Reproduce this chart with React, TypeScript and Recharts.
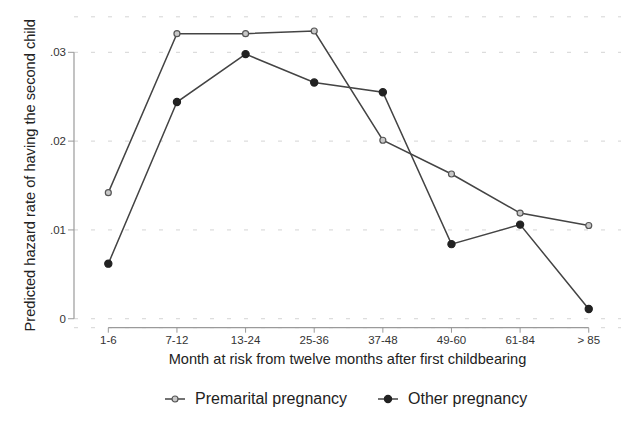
import React from "react";
import { LineChart, Line, XAxis, YAxis, CartesianGrid, ReferenceLine } from "recharts";

// Risk-period categories (months after the first twelve months post first birth)
const months = ["1-6", "7-12", "13-24", "25-36", "37-48", "49-60", "61-84", "> 85"];
// Predicted hazard rate of a second birth, by pregnancy type
const premarital = [0.0142, 0.0321, 0.0321, 0.0324, 0.0201, 0.0163, 0.0119, 0.0105];
const other = [0.0062, 0.0244, 0.0298, 0.0266, 0.0255, 0.0084, 0.0106, 0.0011];
const yTicks = [0, 0.01, 0.02, 0.03];
const xTicks = months.map((_, i) => i + 1);

const data = months.map((m, i) => ({
  pos: i + 1,
  month: m,
  premarital: premarital[i],
  other: other[i],
}));

const FONT = "'Liberation Sans', Arial, Helvetica, sans-serif";
const LINE = "#444";
const AXIS = "#9a9a9a";

const fmtY = (v: number) => (v === 0 ? "0" : v.toFixed(2).replace(/^0/, ""));
const fmtX = (v: number) => months[v - 1] ?? "";

const X_MIN = 0.5;
const X_MAX = 8.47;
const Y_MIN = -0.00101;
const Y_MAX = 0.034;

const Y_TITLE = "Predicted hazard rate of having the second child";

function YTitle(props: any) {
  const vb = props.viewBox || {};
  const cx = vb.x + 30;
  const cy = vb.y + vb.height / 2 + 3;
  return (
    <text
      x={cx}
      y={cy}
      transform={`rotate(-90, ${cx}, ${cy})`}
      textAnchor="middle"
      dominantBaseline="central"
      fontSize={14.6}
      fill="#222"
      fontFamily={FONT}
    >
      {Y_TITLE}
    </text>
  );
}

function LegendItem({ label, filled }: { label: string; filled: boolean }) {
  return (
    <div style={{ display: "flex", alignItems: "center" }}>
      <svg width={22} height={12} style={{ marginRight: 9 }}>
        <line x1={1} y1={6} x2={21} y2={6} stroke={LINE} strokeWidth={1.5} />
        <circle
          cx={11}
          cy={6}
          r={filled ? 3.6 : 3}
          fill={filled ? "#222" : "#c8c8c8"}
          stroke={filled ? "#222" : "#555"}
          strokeWidth={1.2}
        />
      </svg>
      <span style={{ fontSize: 16, color: "#222" }}>{label}</span>
    </div>
  );
}

export default function App() {
  return (
    <div
      style={{
        position: "absolute",
        left: 0,
        top: 0,
        width: 632,
        height: 428,
        background: "#fff",
        fontFamily: FONT,
      }}
    >
      <LineChart
        width={632}
        height={428}
        data={data}
        margin={{ top: 16.8, right: 11, left: 0, bottom: 78.3 }}
      >
        <CartesianGrid
          vertical={false}
          stroke="#d4d4d4"
          strokeDasharray="4 13"
        />
        <XAxis
          dataKey="pos"
          type="number"
          domain={[X_MIN, X_MAX]}
          ticks={xTicks}
          tickFormatter={fmtX}
          allowDataOverflow
          axisLine={false}
          tickLine={{ stroke: AXIS }}
          tickSize={5}
          tickMargin={3}
          height={22}
          tick={{ fontSize: 11.5, fill: "#333", fontFamily: FONT }}
          label={{
            value: "Month at risk from twelve months after first childbearing",
            position: "bottom",
            offset: 4,
            style: { fontSize: 14.6, fill: "#222", fontFamily: FONT },
          }}
        />
        <YAxis
          type="number"
          domain={[Y_MIN, Y_MAX]}
          ticks={yTicks}
          tickFormatter={fmtY}
          allowDataOverflow
          axisLine={false}
          tickLine={{ stroke: AXIS }}
          tickSize={6}
          tickMargin={2}
          width={74}
          tick={{ fontSize: 11.5, fill: "#333", fontFamily: FONT }}
          label={{ content: YTitle }}
        />
        {/* Axis lines spanning only the tick range */}
        <ReferenceLine
          segment={[
            { x: X_MIN, y: 0 },
            { x: X_MIN, y: 0.03 },
          ]}
          stroke={AXIS}
          strokeWidth={1.2}
          ifOverflow="visible"
        />
        <ReferenceLine
          segment={[
            { x: 1, y: Y_MIN },
            { x: 8, y: Y_MIN },
          ]}
          stroke={AXIS}
          strokeWidth={1.2}
          ifOverflow="visible"
        />
        <Line
          type="linear"
          dataKey="premarital"
          stroke={LINE}
          strokeWidth={1.5}
          dot={{ r: 3, fill: "#c8c8c8", stroke: "#555", strokeWidth: 1.2 }}
          activeDot={false}
          isAnimationActive={false}
        />
        <Line
          type="linear"
          dataKey="other"
          stroke={LINE}
          strokeWidth={1.5}
          dot={{ r: 3.6, fill: "#222", stroke: "#222", strokeWidth: 1.2 }}
          activeDot={false}
          isAnimationActive={false}
        />
      </LineChart>
      <div
        style={{
          position: "absolute",
          top: 390,
          left: 164,
          display: "flex",
          alignItems: "center",
          gap: 30,
          fontFamily: FONT,
        }}
      >
        <LegendItem label="Premarital pregnancy" filled={false} />
        <LegendItem label="Other pregnancy" filled={true} />
      </div>
    </div>
  );
}
